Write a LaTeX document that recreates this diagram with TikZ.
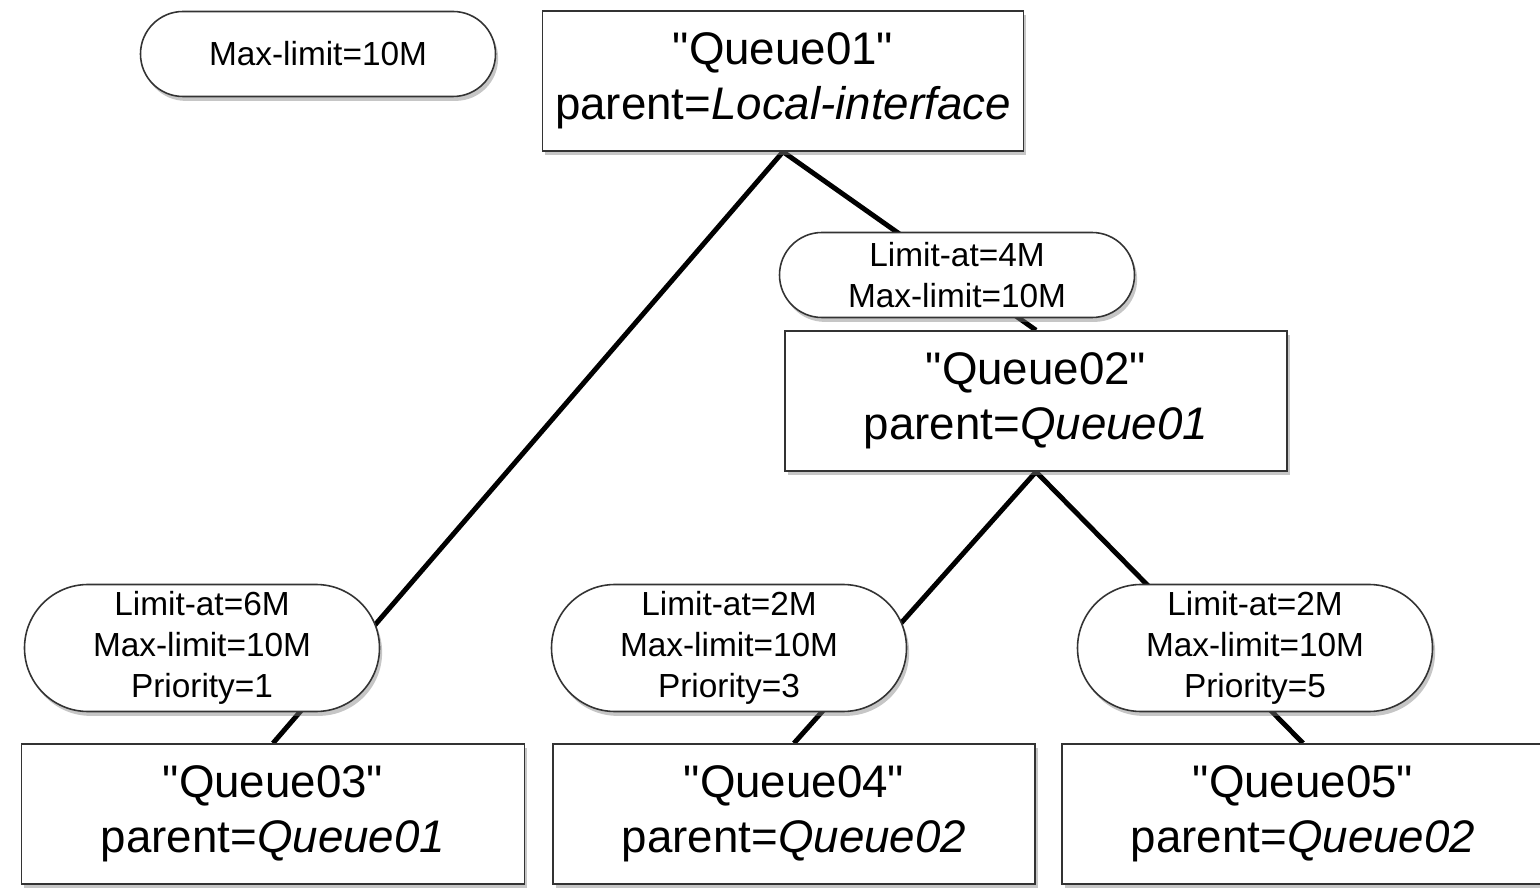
\documentclass[tikz,border=0pt]{standalone}
\usepackage{fontspec}
\setmainfont{Liberation Sans}
\usetikzlibrary{shapes.misc,shadows,backgrounds}

\begin{document}
\begin{tikzpicture}[
	queue/.style={rectangle, draw=black!80, line width=0.9pt, fill=white, align=center, inner sep=0pt, minimum height=2.8cm, font=\fontsize{26}{31}\selectfont, drop shadow={shadow xshift=1.5pt, shadow yshift=-2.5pt, opacity=0.45}},
	limits/.style={rounded rectangle, draw=black!80, line width=0.9pt, fill=white, align=center, inner sep=0pt, minimum width=7.1cm, font=\fontsize{19}{23.5}\selectfont, drop shadow={shadow xshift=1.5pt, shadow yshift=-2.5pt, opacity=0.45}},
	link/.style={line width=2.8pt}
]
	\useasboundingbox (0,0) rectangle (30.8,-17.88);

	\node[limits, minimum height=1.7cm]	(maxlimit)	at (6.36,-1.08)	{Max-limit=10M};
	\node[queue, minimum width=9.62cm]	(queue01)	at (15.66,-1.62)	{\textquotedbl Queue01\textquotedbl\\parent=\textit{Local-interface}};

	\node[limits, minimum height=1.7cm]	(limits02)	at (19.14,-5.5)	{Limit-at=4M\\Max-limit=10M};
	\node[queue, minimum width=10.04cm]	(queue02)	at (20.72,-8.02)	{\textquotedbl Queue02\textquotedbl\\parent=\textit{Queue01}};

	\node[limits, minimum height=2.54cm]	(limits03)	at (4.04,-12.96)	{Limit-at=6M\\Max-limit=10M\\Priority=1};
	\node[limits, minimum height=2.54cm]	(limits04)	at (14.58,-12.96)	{Limit-at=2M\\Max-limit=10M\\Priority=3};
	\node[limits, minimum height=2.54cm]	(limits05)	at (25.1,-12.96)	{Limit-at=2M\\Max-limit=10M\\Priority=5};

	\node[queue, minimum width=10.06cm]	(queue03)	at (5.46,-16.28)	{\textquotedbl Queue03\textquotedbl\\parent=\textit{Queue01}};
	\node[queue, minimum width=9.64cm]	(queue04)	at (15.88,-16.28)	{\textquotedbl Queue04\textquotedbl\\parent=\textit{Queue02}};
	\node[queue, minimum width=9.64cm]	(queue05)	at (26.06,-16.28)	{\textquotedbl Queue05\textquotedbl\\parent=\textit{Queue02}};

	\begin{scope}[on background layer]
		\draw[link] (queue01.south) -- (queue02.north);
		\draw[link] (queue01.south) -- (queue03.north);
		\draw[link] (queue02.south) -- (queue04.north);
		\draw[link] (queue02.south) -- (queue05.north);
	\end{scope}
\end{tikzpicture}
\end{document}
